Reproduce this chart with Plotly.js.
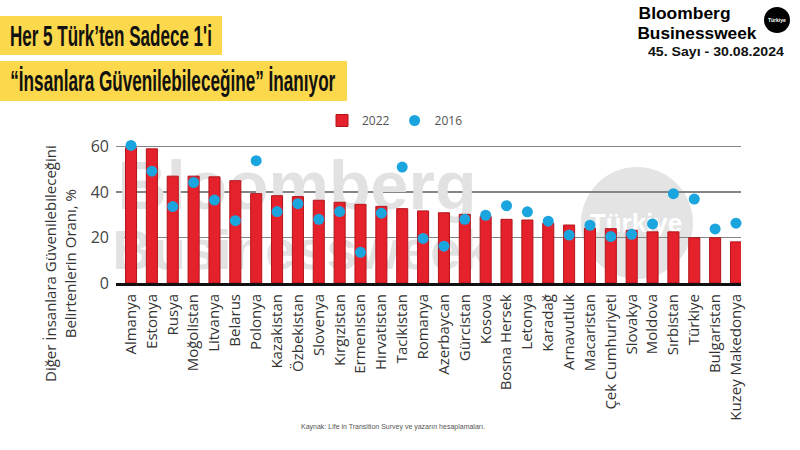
<!DOCTYPE html>
<html>
<head>
<meta charset="utf-8">
<script src="https://cdn.plot.ly/plotly-3.0.1.min.js"></script>
<style>
  html, body { margin: 0; padding: 0; background: #ffffff; }
  #chart { width: 800px; height: 450px; }
</style>
</head>
<body>
<div id="chart"></div>
<script>
// ---- data ----
const categories = [
  "Almanya", "Estonya", "Rusya", "Moğolistan", "Litvanya", "Belarus", "Polonya",
  "Kazakistan", "Özbekistan", "Slovenya", "Kırgızistan", "Ermenistan", "Hırvatistan",
  "Tacikistan", "Romanya", "Azerbaycan", "Gürcistan", "Kosova", "Bosna Hersek",
  "Letonya", "Karadağ", "Arnavutluk", "Macaristan", "Çek Cumhuriyeti", "Slovakya",
  "Moldova", "Sırbistan", "Türkiye", "Bulgaristan", "Kuzey Makedonya"
];
const values2022 = [
  59.5, 59.0, 47.0, 47.0, 46.7, 45.0, 39.3,
  38.4, 38.0, 36.4, 35.5, 34.6, 33.7,
  32.7, 31.7, 30.9, 30.2, 29.2, 28.0,
  27.7, 26.3, 25.5, 24.1, 23.9, 23.2,
  22.5, 22.5, 19.9, 19.9, 18.1
];
const values2016 = [
  60.5, 49.2, 33.6, 44.2, 36.5, 27.4, 53.8,
  31.4, 34.9, 28.0, 31.4, 13.5, 30.7,
  51.0, 19.6, 16.2, 28.0, 29.8, 34.0,
  31.3, 27.2, 21.1, 25.4, 20.4, 21.4,
  26.0, 39.3, 36.9, 23.8, 26.3
];
const seriesNames = ["2022", "2016"];
const yTicks = [0, 20, 40, 60];

// ---- layout geometry (pixels) ----
const WIDTH = 800, HEIGHT = 450;
const L = 116, R = 741, T = 135, B = 283;
const PW = R - L, PH = B - T;
const px = v => (v - L) / PW;
const py = v => (B - v) / PH;

const fontMain = "'Open Sans', 'DejaVu Sans', sans-serif";
const fontHead = "'Liberation Sans', Arial, sans-serif";
const fontLogo = "'Liberation Sans', Arial, sans-serif";

const watermark = {
  type: "scatter", mode: "text",
  x: [px(297), px(302), px(636)],
  y: [py(192), py(255), py(225)],
  text: ["Bloomberg", "Businessweek", "Türkiye"],
  textposition: "middle center",
  textfont: {
    family: fontLogo,
    size: [68, 55, 26],
    color: ["#e2e2e2", "#e2e2e2", "#ffffff"],
    weight: [700, 700, 700]
  },
  cliponaxis: false,
  hoverinfo: "skip",
  showlegend: false,
  xaxis: "x", yaxis: "y"
};

const bars = {
  type: "bar",
  name: seriesNames[0],
  x: categories,
  y: values2022,
  marker: { color: "#e5222b", line: { color: "#b3131b", width: 1 } },
  xaxis: "x2", yaxis: "y2"
};

const dots = {
  type: "scatter",
  mode: "markers",
  name: seriesNames[1],
  x: categories,
  y: values2016,
  marker: { color: "#1ba5de", size: 11, line: { width: 0 } },
  cliponaxis: false,
  xaxis: "x2", yaxis: "y2"
};

// annotations; squeeze = target rendered width in px (condensed type)
const annots = [
  { text: "Her 5 Türk’ten Sadece 1'i", x: 111, y: 36, size: 29, family: fontHead, color: "#111111", weight: 700, squeeze: 202 },
  { text: "“İnsanlara Güvenilebileceğine” İnanıyor", x: 173, y: 81, size: 29, family: fontHead, color: "#111111", weight: 700, squeeze: 325 },
  { text: "Bloomberg", x: 684, y: 13.5, size: 16.5, family: fontLogo, color: "#000000", weight: 700, squeeze: 92 },
  { text: "Businessweek", x: 697, y: 33, size: 16.5, family: fontLogo, color: "#000000", weight: 700, squeeze: 119 },
  { text: "Türkiye", x: 777, y: 20, size: 5, family: fontLogo, color: "#ffffff", weight: 700 },
  { text: "45. Sayı - 30.08.2024", x: 716, y: 51.5, size: 13.5, family: fontLogo, color: "#111111", weight: 700, squeeze: 136 },
  { text: "Kaynak: Life in Transition Survey ve yazarın hesaplamaları.", x: 393, y: 427, size: 7, family: fontLogo, color: "#555555", weight: 400 }
];

const layout = {
  width: WIDTH, height: HEIGHT,
  margin: { l: L, r: WIDTH - R, t: T, b: HEIGHT - B, pad: 0 },
  paper_bgcolor: "#ffffff",
  plot_bgcolor: "rgba(0,0,0,0)",
  showlegend: true,
  bargap: 0.47,
  xaxis: { visible: false, range: [0, 1], fixedrange: true },
  yaxis: { visible: false, range: [0, 1], fixedrange: true },
  xaxis2: {
    overlaying: "x", anchor: "y2", side: "bottom",
    type: "category",
    range: [-0.72, 29.24],
    showline: true, linecolor: "#111111", linewidth: 3,
    showgrid: false, zeroline: false,
    ticks: "",
    tickangle: -90,
    tickfont: { family: fontMain, size: 15, color: "#333333" },
    ticklabelstandoff: 2
  },
  yaxis2: {
    overlaying: "y", anchor: "x2", side: "left",
    range: [0, 65.1],
    tickvals: yTicks,
    ticktext: yTicks.map(String),
    showgrid: true, gridcolor: "#858585", gridwidth: 1.3,
    zeroline: false, showline: false,
    ticks: "",
    ticklabelstandoff: 6,
    tickfont: { family: fontMain, size: 16, color: "#444444" }
  },
  legend: {
    orientation: "h",
    x: px(322), y: py(106),
    xanchor: "left", yanchor: "top",
    font: { family: fontMain, size: 12, color: "#555555" },
    itemwidth: 30,
    bgcolor: "rgba(0,0,0,0)",
    traceorder: "normal"
  },
  shapes: [
    { type: "rect", xref: "paper", yref: "paper", layer: "below",
      x0: px(0), x1: px(222), y0: py(55), y1: py(16),
      fillcolor: "#fbd84c", line: { width: 0 } },
    { type: "rect", xref: "paper", yref: "paper", layer: "below",
      x0: px(0), x1: px(347), y0: py(101), y1: py(61),
      fillcolor: "#fbd84c", line: { width: 0 } },
    { type: "circle", xref: "paper", yref: "paper", layer: "below",
      x0: px(581), x1: px(693), y0: py(279), y1: py(167),
      fillcolor: "#e4e4e4", line: { width: 0 } },
    { type: "circle", xref: "paper", yref: "paper",
      x0: px(764), x1: px(790), y0: py(33), y1: py(7),
      fillcolor: "#000000", line: { width: 0 } }
  ],
  annotations: annots.map(a => ({
    text: a.text, xref: "paper", yref: "paper",
    x: px(a.x), y: py(a.y), xanchor: "center", yanchor: "middle", showarrow: false,
    font: { family: a.family, size: a.size, color: a.color, weight: a.weight }
  })).concat([
    { text: "Diğer İnsanlara Güvenilebileceğini<br>Belirtenlerin Oranı, %", xref: "paper", yref: "paper",
      x: px(60), y: py(264), xanchor: "center", yanchor: "middle", showarrow: false,
      textangle: -90,
      font: { family: fontMain, size: 15, color: "#333333" } }
  ])
};

Plotly.newPlot("chart", [watermark, bars, dots], layout, { staticPlot: true, displayModeBar: false })
  .then(gd => {
    annots.forEach((a, i) => {
      if (!a.squeeze) return;
      const t = gd.querySelector('.annotation[data-index="' + i + '"] text.annotation-text');
      if (t) {
        t.setAttribute("textLength", a.squeeze);
        t.setAttribute("lengthAdjust", "spacingAndGlyphs");
      }
    });
  });
</script>
</body>
</html>
